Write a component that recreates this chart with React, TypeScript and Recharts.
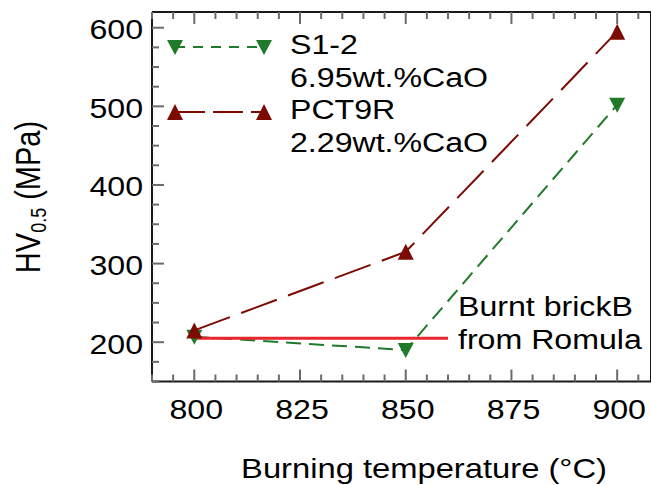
import React from "react";
import { LineChart, Line, XAxis, YAxis, ReferenceLine, Legend } from "recharts";

// burning temperature (°C) and Vickers hardness HV0.5 (MPa)
const temps = [800, 850, 900];
const s12Hv = [207, 190, 502];
const pct9rHv = [215, 315, 595];

// reference: burnt brick B from Romula
const brickHv = 205;
const brickRange = [800, 860];

const xTicks = [790, 795, 800, 805, 810, 815, 820, 825, 830, 835, 840, 845, 850, 855, 860, 865, 870, 875, 880, 885, 890, 895, 900, 905];
const xMajor = [800, 825, 850, 875, 900];
const yTicks = [150, 175, 200, 225, 250, 275, 300, 325, 350, 375, 400, 425, 450, 475, 500, 525, 550, 575, 600];
const yMajor = [200, 300, 400, 500, 600];

const GREEN = "#1f7a29";
const MAROON = "#7c0b03";
const RED = "#e8262e";
const TICK = "#6b6b6b";
const AXIS = "#1a1a1a";
const FONT = "'Liberation Sans', Arial, sans-serif";
const STRETCH = 1.19; // the original figure is a bit wider than tall

const data = temps.map((t, i) => ({ t, s12: s12Hv[i], pct: pct9rHv[i] }));

const series = [
  { key: "s12", lines: ["S1-2", "6.95wt.%CaO"], color: GREEN, dash: "10 8", down: true },
  { key: "pct", lines: ["PCT9R", "2.29wt.%CaO"], color: MAROON, dash: "30 8", down: false },
];

const tri = (cx: number, cy: number, down: boolean) =>
  down
    ? `M${cx - 8},${cy - 7} L${cx + 8},${cy - 7} L${cx},${cy + 8} Z`
    : `M${cx - 8},${cy + 8} L${cx + 8},${cy + 8} L${cx},${cy - 8} Z`;

// text drawn with the same horizontal stretch as the reference
const T = ({ x, y, anchor = "start", size = 27, rotate = 0, children }: any) => (
  <text
    transform={`translate(${x} ${y}) scale(${STRETCH} 1)${rotate ? ` rotate(${rotate})` : ""}`}
    textAnchor={anchor} fontSize={size} fontFamily={FONT} fill="#000"
  >
    {children}
  </text>
);

/* ---------- inward ticks on all four sides ---------- */
const BottomTick = ({ x, y, payload }: any) => {
  const major = xMajor.includes(payload.value);
  return (
    <g>
      <line x1={x} x2={x} y1={y} y2={y - (major ? 12 : 7)} stroke={TICK} strokeWidth={2} />
      {major && <T x={x + 2} y={y + 37} anchor="middle">{payload.value}</T>}
    </g>
  );
};

const TopTick = ({ x, y, payload }: any) => {
  const major = xMajor.includes(payload.value);
  return <line x1={x} x2={x} y1={y} y2={y + (major ? 12 : 7)} stroke={TICK} strokeWidth={2} />;
};

const LeftTick = ({ x, y, payload }: any) => {
  const major = yMajor.includes(payload.value);
  return (
    <g>
      <line x1={x} x2={x + (major ? 12 : 7)} y1={y} y2={y} stroke={TICK} strokeWidth={2} />
      {major && <T x={x - 9} y={y + 11.5} anchor="end">{payload.value}</T>}
    </g>
  );
};

const RightTick = ({ x, y, payload }: any) => {
  const major = yMajor.includes(payload.value);
  return <line x1={x} x2={x - (major ? 12 : 7)} y1={y} y2={y} stroke={TICK} strokeWidth={2} />;
};

/* ---------- legend (top left, inside the frame) ---------- */
const LegendBox = () => (
  <svg width={420} height={165} style={{ display: "block", overflow: "visible" }}>
    {series.map((s, i) => {
      const cy = 47 + i * 65;
      return (
        <g key={s.key}>
          <line x1={175} x2={264} y1={cy} y2={cy} stroke={s.color} strokeWidth={2} strokeDasharray={s.dash} />
          <path d={tri(175, cy, s.down)} fill={s.color} />
          <path d={tri(264, cy, s.down)} fill={s.color} />
          {s.lines.map((l, j) => (
            <T key={j} x={290} y={cy + 6.5 + j * 33}>{l}</T>
          ))}
        </g>
      );
    })}
  </svg>
);

export default function App() {
  return (
    <div style={{ position: "fixed", left: 0, top: 0, width: 651, height: 485, overflow: "hidden", background: "#fff" }}>
      <LineChart width={660} height={485} data={data} margin={{ top: 0, right: 0, bottom: 0, left: 0 }}>
        <XAxis
          dataKey="t" type="number" domain={[790, 908]} ticks={xTicks} interval={0}
          height={103.5} tickSize={0} tickMargin={0} tickLine={false}
          axisLine={{ stroke: AXIS, strokeWidth: 2 }} tick={<BottomTick />}
        />
        <XAxis
          xAxisId="top" orientation="top" dataKey="t" type="number" domain={[790, 908]} ticks={xTicks} interval={0}
          height={12} tickSize={0} tickMargin={0} tickLine={false}
          axisLine={{ stroke: AXIS, strokeWidth: 2 }} tick={<TopTick />}
        />
        <YAxis
          type="number" domain={[150, 620]} ticks={yTicks} interval={0}
          width={152} tickSize={0} tickMargin={0} tickLine={false}
          axisLine={{ stroke: AXIS, strokeWidth: 2 }} tick={<LeftTick />}
        />
        <YAxis
          yAxisId="right" orientation="right" type="number" domain={[150, 620]} ticks={yTicks} interval={0}
          width={9} tickSize={0} tickMargin={0} tickLine={false}
          axisLine={{ stroke: AXIS, strokeWidth: 2 }} tick={<RightTick />}
        />
        <Legend
          layout="vertical" align="center" verticalAlign="middle"
          wrapperStyle={{ left: 0, top: 0, width: 420, height: 165 }}
          content={() => <LegendBox />}
        />
        <Line
          dataKey="s12" stroke={GREEN} strokeWidth={2} strokeDasharray="15 8" isAnimationActive={false}
          dot={(p: any) => <path key={`g${p.index}`} d={tri(p.cx, p.cy, true)} fill={GREEN} />}
          activeDot={false}
        />
        <Line
          dataKey="pct" stroke={MAROON} strokeWidth={2} strokeDasharray="38 12" isAnimationActive={false}
          dot={(p: any) => <path key={`r${p.index}`} d={tri(p.cx, p.cy, false)} fill={MAROON} />}
          activeDot={false}
        />
        <ReferenceLine
          segment={[{ x: brickRange[0], y: brickHv }, { x: brickRange[1], y: brickHv }]}
          stroke={RED} strokeWidth={3}
        />
        <T x={458} y={316}>Burnt brickB</T>
        <T x={458} y={349}>from Romula</T>
        <T x={424} y={478} anchor="middle" size={27.5}>Burning temperature (°C)</T>
        <T x={40} y={197} anchor="middle" size={29} rotate={-90}>
          HV<tspan fontSize={18} dy={5}>0.5</tspan>
          <tspan dy={-5}> (MPa)</tspan>
        </T>
      </LineChart>
    </div>
  );
}
